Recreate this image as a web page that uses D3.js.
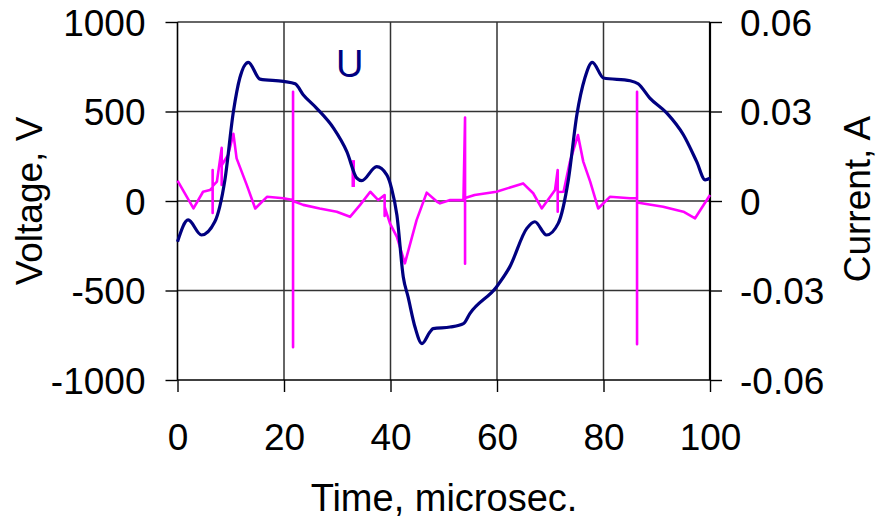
<!DOCTYPE html>
<html><head><meta charset="utf-8">
<script src="https://cdn.jsdelivr.net/npm/d3@7"></script>
<style>body{margin:0;background:#fff}svg{display:block}text{font-family:"Liberation Sans",Arial,sans-serif;fill:#000}</style>
</head><body><svg id="c" width="881" height="521"></svg>
<script>
const timeTicks = [0, 20, 40, 60, 80, 100];
const voltTicks = [1000, 500, 0, -500, -1000];
const voltTickLabels = ["1000", "500", "0", "-500", "-1000"];
const currTicks = [0.06, 0.03, 0, -0.03, -0.06];
const currTickLabels = ["0.06", "0.03", "0", "-0.03", "-0.06"];

const voltTime = [0, 2.0, 4.5, 7.0, 8.9, 10.5, 11.7, 13.3, 15.5, 19.9, 22.1, 23.6, 26.1, 29.3, 31.8, 33.7, 34.6, 37.4, 39.3, 40.2, 41.2, 42.4, 43.3, 44.6, 45.9, 47.4, 48.0, 51.2, 53.7, 54.9, 59.9, 62.4, 65.6, 67.1, 69.3, 71.5, 73.4, 75.0, 76.5, 77.9, 80.0, 85.0, 86.5, 88.7, 91.9, 95.0, 97.5, 99.1, 100];
const voltage = [-228, -106, -190, -116, 118, 500, 687, 775, 681, 668, 655, 594, 519, 407, 276, 127, 114, 192, 146, 71, -78, -424, -536, -704, -797, -732, -713, -704, -685, -629, -480, -368, -153, -116, -190, -125, 118, 482, 687, 775, 687, 672, 655, 575, 491, 370, 220, 118, 127];

const currTime = [0, 3.0, 4.8, 6.1, 6.6, 6.6, 6.6, 6.6, 7.4, 8.3, 8.3, 8.3, 9.5, 10.5, 11.1, 13.0, 14.6, 16.8, 19.9, 21.7, 21.7, 21.7, 21.7, 23.6, 26.7, 29.9, 32.4, 34.3, 36.2, 37.7, 38.9, 38.9, 38.9, 39.9, 41.2, 42.7, 44.9, 46.8, 48.7, 49.3, 51.2, 53.7, 54.0, 54.0, 54.0, 55.8, 59.9, 64.9, 66.8, 68.4, 70.9, 71.4, 71.4, 71.4, 72.5, 73.7, 75.2, 76.2, 77.5, 79.0, 81.2, 85.0, 86.3, 86.3, 86.3, 86.3, 91.2, 95.0, 97.2, 100];
const current = [0.0068, -0.0025, 0.0031, 0.0037, 0.0045, 0.0104, -0.0040, 0.0050, 0.0065, 0.0178, 0.0054, 0.0120, 0.0154, 0.0225, 0.0143, 0.0054, -0.0025, 0.0014, 0.0009, 0.0003, 0.0366, -0.0490, 0.0000, -0.0013, -0.0025, -0.0036, -0.0053, -0.0013, 0.0031, 0.0003, 0.0020, -0.0050, -0.0020, -0.0075, -0.0120, -0.0209, -0.0064, 0.0028, -0.0002, -0.0008, 0.0003, 0.0003, 0.0280, -0.0210, 0.0010, 0.0020, 0.0031, 0.0059, 0.0026, -0.0025, 0.0037, 0.0104, -0.0036, 0.0030, 0.0031, 0.0132, 0.0221, 0.0132, 0.0065, -0.0025, 0.0014, 0.0009, 0.0009, 0.0366, -0.0480, -0.0005, -0.0019, -0.0036, -0.0058, 0.0020];

const markTime = [33.0, 33.0];
const markCurrent = [0.0137, 0.0047];

const svg = d3.select("#c");
const L = 177.5, R = 710, T = 22, B = 380;
const FS = "37px";
const x = d3.scaleLinear().domain([0, 100]).range([L, R]);
const yV = d3.scaleLinear().domain([-1000, 1000]).range([B, T]);
const yA = d3.scaleLinear().domain([-0.06, 0.06]).range([B, T]);

// gridlines
const g = svg.append("g");
g.selectAll("line.v").data(timeTicks.slice(1, -1)).enter().append("line")
  .attr("x1", d => x(d)).attr("x2", d => x(d)).attr("y1", T).attr("y2", B)
  .attr("stroke", "#333").attr("stroke-width", 1.5);
g.selectAll("line.h").data(voltTicks.slice(0, -1)).enter().append("line")
  .attr("x1", L).attr("x2", R).attr("y1", d => yV(d)).attr("y2", d => yV(d))
  .attr("stroke", "#333").attr("stroke-width", 1.5);

// axes
const axL = d3.axisLeft(yV).tickValues(voltTicks).tickSize(12).tickFormat((d, i) => voltTickLabels[i]);
const axR = d3.axisRight(yA).tickValues(currTicks).tickSize(12).tickFormat((d, i) => currTickLabels[i]);
const axB = d3.axisBottom(x).tickValues(timeTicks).tickSize(12).tickFormat(d => String(d));
function style(sel) {
  sel.selectAll("path").attr("stroke", "#000").attr("stroke-width", 1.6);
  sel.selectAll("line").attr("stroke", "#000").attr("stroke-width", 1.4);
  sel.selectAll("text").style("font-size", FS).attr("fill", "#000");
}
const gL = svg.append("g").attr("transform", `translate(${L},0)`).call(axL).call(style);
gL.selectAll("text").attr("x", -32).attr("dy", "0.36em");
gL.select("path").attr("d", `M0,${T}V${B}`);
const gR = svg.append("g").attr("transform", `translate(${R},0)`).call(axR).call(style);
gR.selectAll("text").attr("x", 30).attr("dy", "0.36em");
gR.select("path").attr("d", `M0,${T}V${B}`).attr("stroke-width", 2.2);
const gB = svg.append("g").attr("transform", `translate(0,${B})`).call(axB).call(style);
gB.selectAll("text").attr("y", 44).attr("dy", "0.71em");
gB.select("path").attr("d", `M${L},0H${R}`);

// current line
const cData = currTime.map((t, i) => [t, current[i]]);
svg.append("path").datum(cData)
  .attr("d", d3.line().x(d => x(d[0])).y(d => yA(d[1])))
  .attr("fill", "none").attr("stroke", "#ff00ff").attr("stroke-width", 2.6).attr("stroke-linejoin", "round");
svg.append("path").datum(markTime.map((t, i) => [t, markCurrent[i]]))
  .attr("d", d3.line().x(d => x(d[0])).y(d => yA(d[1])))
  .attr("fill", "none").attr("stroke", "#ff00ff").attr("stroke-width", 3.5);

// voltage line
const vData = voltTime.map((t, i) => [t, voltage[i]]);
svg.append("path").datum(vData)
  .attr("d", d3.line().curve(d3.curveMonotoneX).x(d => x(d[0])).y(d => yV(d[1])))
  .attr("fill", "none").attr("stroke", "#000080").attr("stroke-width", 3.2).attr("stroke-linejoin", "round");

// labels
svg.append("text").attr("x", 336).attr("y", 77).style("font-size", "38px").style("fill", "#000080").text("U");
svg.append("text").attr("transform", "translate(42,201) rotate(-90)").attr("text-anchor", "middle").style("font-size", FS).text("Voltage, V");
svg.append("text").attr("transform", "translate(870,199) rotate(-90)").attr("text-anchor", "middle").style("font-size", FS).text("Current, A");
svg.append("text").attr("x", 444).attr("y", 511).attr("text-anchor", "middle").style("font-size", "38px").text("Time, microsec.");
</script></body></html>
